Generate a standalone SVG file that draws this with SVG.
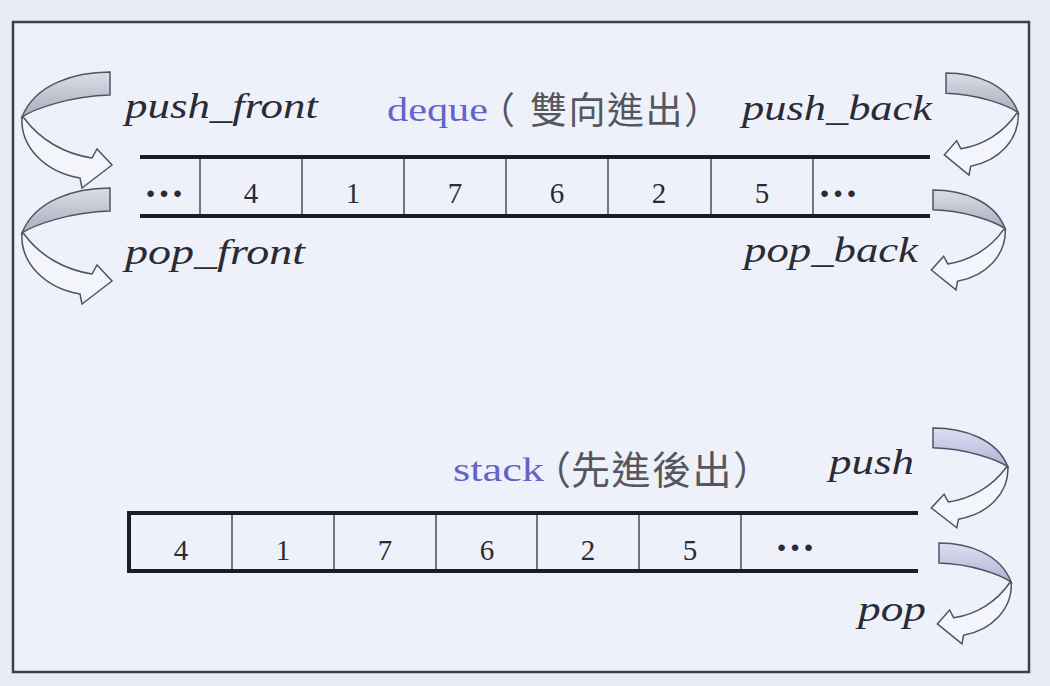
<svg xmlns="http://www.w3.org/2000/svg" xmlns:xlink="http://www.w3.org/1999/xlink" width="1050" height="686" viewBox="0 0 1050 686">
<style>
.lbl{font-family:"Liberation Serif","Times New Roman",serif;font-style:italic;font-size:36px;fill:#2b2b36}
.num{font-family:"Liberation Serif","Times New Roman",serif;font-size:29px;fill:#2b2b36;text-anchor:middle}
.dots{font-family:"Liberation Serif","Times New Roman",serif;font-size:40px;font-weight:bold;fill:#2b2b36;text-anchor:middle}
.name{font-family:"Liberation Serif","Times New Roman",serif;font-size:34px;fill:#6464c8}
.cjk{font-family:"Noto Sans CJK TC","Noto Sans CJK SC",sans-serif;fill:#55565e}
.rail{stroke:#1c1d2a;stroke-width:4;fill:none}
.div{stroke:#4a4b55;stroke-width:1.5;fill:none}
.face{stroke:#4e5468;stroke-width:1.5;vector-effect:non-scaling-stroke}
</style>
<defs>
<linearGradient id="g1" x1="0" y1="0" x2="0" y2="1">
<stop offset="0" stop-color="#dcdee6"/><stop offset="1" stop-color="#a9adbd"/>
</linearGradient>
<linearGradient id="g2" x1="0" y1="0" x2="0" y2="1">
<stop offset="0" stop-color="#dde0f2"/><stop offset="1" stop-color="#aeb3d6"/>
</linearGradient>
<g id="arr1">
<path class="face" fill="url(#g1)" d="M0,0 C-35,0 -75,12 -88,45 C-76,37 -40,24 0,23 Z"/>
<path class="face" fill="#f3f5fb" d="M-88,45 C-90,75 -65,100 -30,106 L-28,116 L2,93 L-13,77 L-18,86 C-45,82 -70,68 -86,46 Z"/>
</g>
<g id="arr2">
<path class="face" fill="url(#g2)" d="M0,0 C-35,0 -75,12 -88,45 C-76,37 -40,24 0,23 Z"/>
<path class="face" fill="#f3f5fb" d="M-88,45 C-90,75 -65,100 -30,106 L-28,116 L2,93 L-13,77 L-18,86 C-45,82 -70,68 -86,46 Z"/>
</g>
</defs>
<rect width="1050" height="686" fill="#e9ecf6"/>
<g id="frame">
<rect x="13" y="22" width="1016" height="650" fill="#eef1f9" stroke="#3a3f52" stroke-width="2.5"/>
</g>
<g id="deque">
<line class="rail" x1="140" y1="157" x2="930" y2="157"/>
<line class="rail" x1="140" y1="216" x2="930" y2="216"/>
<path class="div" d="M200,159V214M302,159V214M404,159V214M506,159V214M608,159V214M711,159V214M813,159V214"/>
<text class="dots" x="164" y="197">…</text>
<text class="num" x="251" y="203">4</text>
<text class="num" x="353" y="203">1</text>
<text class="num" x="455" y="203">7</text>
<text class="num" x="557" y="203">6</text>
<text class="num" x="659" y="203">2</text>
<text class="num" x="762" y="203">5</text>
<text class="dots" x="838" y="197">…</text>
</g>
<g id="deque-title">
<text class="name" x="387" y="121" textLength="101" lengthAdjust="spacingAndGlyphs">deque</text>
<text class="cjk" font-size="37" y="124"><tspan x="478">（</tspan><tspan x="530" letter-spacing="1.5">雙向進出</tspan><tspan x="684">）</tspan></text>
</g>
<g id="stack">
<line class="rail" x1="129" y1="513" x2="918" y2="513"/>
<line class="rail" x1="129" y1="571" x2="918" y2="571"/>
<line class="rail" x1="129" y1="511" x2="129" y2="573"/>
<path class="div" d="M232,515V569M334,515V569M436,515V569M537,515V569M639,515V569M741,515V569"/>
<text class="num" x="181" y="560">4</text>
<text class="num" x="283" y="560">1</text>
<text class="num" x="385" y="560">7</text>
<text class="num" x="487" y="560">6</text>
<text class="num" x="588" y="560">2</text>
<text class="num" x="690" y="560">5</text>
<text class="dots" x="795" y="551">…</text>
</g>
<g id="stack-title">
<text class="name" x="453" y="481" textLength="91" lengthAdjust="spacingAndGlyphs">stack</text>
<text class="cjk" font-size="39" y="484"><tspan x="532">（</tspan><tspan x="571" letter-spacing="1.5">先進後出</tspan><tspan x="733">）</tspan></text>
</g>
<g id="labels">
<text class="lbl" x="125" y="118" textLength="193" lengthAdjust="spacingAndGlyphs">push_front</text>
<text class="lbl" x="125" y="264" textLength="180" lengthAdjust="spacingAndGlyphs">pop_front</text>
<text class="lbl" x="742" y="120" textLength="190" lengthAdjust="spacingAndGlyphs">push_back</text>
<text class="lbl" x="744" y="262" textLength="174" lengthAdjust="spacingAndGlyphs">pop_back</text>
<text class="lbl" x="829" y="474" textLength="85" lengthAdjust="spacingAndGlyphs">push</text>
<text class="lbl" x="858" y="621" textLength="68" lengthAdjust="spacingAndGlyphs">pop</text>
</g>
<g id="connectors">
<use xlink:href="#arr1" transform="translate(110,72)"/>
<use xlink:href="#arr1" transform="translate(110,188)"/>
<use xlink:href="#arr1" transform="translate(946,73) scale(-0.82,0.88)"/>
<use xlink:href="#arr1" transform="translate(933,190) scale(-0.82,0.86)"/>
<use xlink:href="#arr2" transform="translate(933,428) scale(-0.85,0.86)"/>
<use xlink:href="#arr2" transform="translate(939,543) scale(-0.82,0.87)"/>
</g>
</svg>
